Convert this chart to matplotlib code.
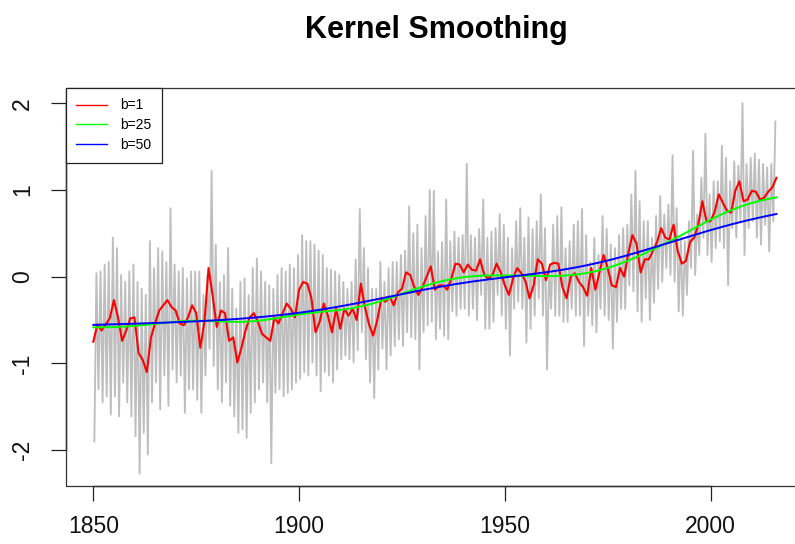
import numpy as np
import matplotlib
matplotlib.use("Agg")
import matplotlib.pyplot as plt
from matplotlib.patches import Rectangle
from matplotlib.lines import Line2D

plt.rcParams['font.family'] = ['Liberation Sans', 'DejaVu Sans']

# ---------------- data ----------------
start_year = 1850

# b=1 kernel smooth, one value per year 1850..2016
red_b1 = [
    -0.75, -0.55, -0.62, -0.55, -0.48, -0.27, -0.47, -0.74, -0.62, -0.48,   # 1850s
    -0.47, -0.88, -0.96, -1.10, -0.70, -0.54, -0.39, -0.33, -0.27, -0.35,   # 1860s
    -0.39, -0.54, -0.56, -0.47, -0.33, -0.42, -0.82, -0.52, 0.10, -0.22,    # 1870s
    -0.58, -0.39, -0.42, -0.74, -0.70, -0.99, -0.82, -0.62, -0.47, -0.42,   # 1880s
    -0.52, -0.66, -0.70, -0.74, -0.47, -0.54, -0.42, -0.31, -0.37, -0.47,   # 1890s
    -0.15, -0.06, -0.08, -0.25, -0.64, -0.52, -0.31, -0.45, -0.64, -0.37,   # 1900s
    -0.60, -0.37, -0.45, -0.37, -0.50, -0.08, -0.35, -0.55, -0.68, -0.50,   # 1910s
    -0.25, -0.29, -0.23, -0.33, -0.18, -0.14, 0.05, 0.02, -0.12, -0.21,     # 1920s
    -0.12, 0.00, 0.12, -0.15, -0.10, -0.10, -0.15, -0.02, 0.15, 0.14,       # 1930s
    0.05, 0.14, 0.08, 0.07, 0.20, 0.02, -0.02, 0.02, 0.15, 0.05,            # 1940s
    -0.10, -0.21, -0.02, 0.10, 0.04, -0.05, -0.25, -0.10, 0.20, 0.15,       # 1950s
    -0.04, 0.14, 0.16, 0.15, -0.12, -0.25, 0.00, 0.04, -0.06, -0.12,        # 1960s
    -0.22, 0.10, -0.15, 0.05, 0.25, 0.10, -0.10, -0.12, 0.10, 0.00,         # 1970s
    0.27, 0.48, 0.38, 0.05, 0.20, 0.20, 0.30, 0.40, 0.56, 0.45,             # 1980s
    0.43, 0.60, 0.30, 0.15, 0.18, 0.40, 0.45, 0.60, 0.87, 0.64,             # 1990s
    0.64, 0.75, 0.95, 0.85, 0.76, 0.74, 0.99, 1.10, 0.87, 0.89,             # 2000s
    0.99, 0.98, 0.89, 0.91, 0.98, 1.03, 1.14,                               # 2010s
]

# raw series: yearly low and high excursions, 1850..2015
gray_lo = [
    -1.90, -1.30, -1.45, -1.38, -1.59, -1.38, -1.61, -1.22, -1.45, -1.61,
    -1.84, -2.27, -1.80, -2.05, -1.45, -1.22, -1.53, -1.14, -1.49, -1.07,
    -1.22, -1.14, -1.57, -1.30, -1.30, -1.42, -1.57, -1.14, -0.83, -1.03,
    -1.30, -1.45, -1.22, -1.49, -1.61, -1.80, -1.76, -1.86, -1.57, -1.45,
    -1.30, -1.22, -1.45, -2.15, -1.34, -1.30, -1.38, -1.34, -1.30, -1.22,
    -1.18, -1.10, -1.14, -0.99, -1.14, -1.32, -1.10, -1.14, -1.22, -1.07,
    -0.95, -0.91, -0.95, -0.99, -0.85, -0.64, -0.95, -1.22, -1.40, -1.07,
    -0.83, -1.07, -0.91, -0.80, -0.72, -0.80, -0.64, -0.70, -0.72, -1.07,
    -0.64, -0.56, -0.52, -0.72, -0.60, -0.68, -0.72, -0.40, -0.45, -0.37,
    -0.37, -0.45, -0.37, -0.50, -0.21, -0.60, -0.60, -0.52, -0.21, -0.45,
    -0.60, -0.91, -0.37, -0.29, -0.37, -0.76, -0.60, -0.45, -0.25, -0.45,
    -1.07, -0.37, -0.45, -0.45, -0.52, -0.52, -0.37, -0.45, -0.45, -0.80,
    -0.45, -0.56, -0.64, -0.37, -0.45, -0.50, -0.83, -0.52, -0.37, -0.37,
    -0.10, -0.17, -0.40, -0.52, -0.25, -0.50, -0.30, -0.14, -0.06, 0.10,
    0.02, -0.06, -0.40, -0.45, -0.21, 0.10, 0.02, 0.25, 0.45, 0.25,
    0.17, 0.33, 0.41, 0.33, -0.10, 0.56, 0.45, 0.64, 0.25, 0.56,
    0.64, 0.45, 0.37, 0.60, 0.29, 0.64,
]
gray_hi = [
    0.04, 0.06, 0.14, 0.17, 0.45, 0.33, 0.02, -0.06, 0.06, 0.14,
    -0.06, -0.14, -0.21, 0.41, 0.10, 0.33, 0.29, 0.17, 0.79, 0.14,
    0.06, 0.10, -0.02, 0.06, 0.06, 0.06, -0.21, 0.02, 1.22, 0.37,
    -0.06, 0.02, 0.33, -0.14, -0.37, -0.06, -0.02, -0.21, 0.10, 0.21,
    0.06, -0.06, -0.10, -0.14, 0.02, 0.10, 0.06, 0.14, 0.10, 0.25,
    0.48, 0.41, 0.41, 0.37, 0.30, 0.25, 0.10, 0.08, 0.06, 0.02,
    -0.06, -0.14, -0.06, 0.20, 0.78, 0.33, 0.10, -0.14, -0.14, 0.17,
    -0.06, 0.10, 0.17, 0.17, 0.25, 0.30, 0.81, 0.50, 0.60, 0.33,
    0.70, 1.00, 0.99, 0.29, 0.40, 0.89, 0.41, 0.52, 0.45, 0.48,
    1.30, 0.48, 0.45, 0.55, 0.89, 0.45, 0.52, 0.56, 0.72, 0.60,
    0.45, 0.33, 0.64, 0.79, 0.45, 0.68, 0.55, 0.64, 0.95, 0.56,
    0.10, 0.60, 0.70, 0.80, 0.33, 0.41, 0.60, 0.64, 0.78, 0.48,
    0.17, 0.45, 0.25, 0.70, 0.55, 0.37, 0.33, 0.48, 0.56, 0.60,
    0.95, 1.22, 0.87, 0.64, 0.64, 0.45, 0.70, 0.93, 0.72, 0.83,
    1.40, 0.79, 0.45, 0.41, 0.64, 1.45, 0.72, 1.14, 1.65, 0.95,
    1.10, 1.10, 1.51, 1.37, 1.10, 1.33, 1.28, 2.00, 1.30, 1.37,
    1.42, 1.35, 1.30, 1.26, 1.30, 1.79,
]

bandwidths = [1, 25, 50]
legend_labels = ["b=1", "b=25", "b=50"]
x_ticks = [1850, 1900, 1950, 2000]
y_ticks = [-2, -1, 0, 1, 2]
title = "Kernel Smoothing"


def ksmooth(x, y, b):
    """Normal-kernel smoother as in R's ksmooth (quartiles at +-0.25*b)."""
    sd = 0.3706506 * b
    out = np.empty(len(y))
    for i, xi in enumerate(x):
        d = np.abs(x - xi)
        m = d < 4 * sd
        w = np.exp(-0.5 * (d[m] / sd) ** 2)
        out[i] = np.sum(w * y[m]) / np.sum(w)
    return out


red = np.array(red_b1)
t_red = start_year + np.arange(len(red))
lo = np.array(gray_lo)
hi = np.array(gray_hi)
yrs = start_year + np.arange(len(lo))
t_gray = np.column_stack([yrs + 0.25, yrs + 0.75]).ravel()
v_gray = np.column_stack([lo, hi]).ravel()

green = ksmooth(t_red.astype(float), red, bandwidths[1])
blue = ksmooth(t_red.astype(float), red, bandwidths[2])

# ---------------- figure ----------------
W, H = 795, 544
fig = plt.figure(figsize=(W / 100, H / 100), dpi=100)
ax = fig.add_axes([66 / W, 1 - 485.5 / H, 738 / W, 397.5 / H])

ax.plot(t_gray, v_gray, color='#BEBEBE', lw=1.35)
ax.plot(t_red, red, color='#FF0000', lw=1.5)
ax.plot(t_red, green, color='#00FF00', lw=1.4)
ax.plot(t_red, blue, color='#0000FF', lw=1.4)

ax.set_xlim(1843.36, 2022.7)
ax.set_ylim(-2.408, 2.176)

# R-style axes: box + axis lines spanning the ticks only
for s in ['top', 'right']:
    ax.spines[s].set_visible(False)
ax.spines['bottom'].set_bounds(x_ticks[0], x_ticks[-1])
ax.spines['left'].set_bounds(y_ticks[0], y_ticks[-1])
for s in ['bottom', 'left']:
    ax.spines[s].set_linewidth(1.0)
    ax.spines[s].set_color('#222222')
ax.add_patch(Rectangle((0, 0), 1, 1, transform=ax.transAxes, fill=False,
                       lw=0.9, edgecolor='#333333', clip_on=False, zorder=5))

ax.set_xticks(x_ticks)
ax.set_yticks(y_ticks)
ax.set_xticklabels([str(v) for v in x_ticks])
ax.set_yticklabels([str(v) for v in y_ticks])
ax.tick_params(direction='out', length=11, width=0.9, color='#222222',
               labelsize=16.5, labelcolor='#111111')
ax.tick_params(axis='x', pad=10)
ax.tick_params(axis='y', pad=12)
for lab in ax.get_yticklabels():
    lab.set_rotation(90)
    lab.set_va('center')

fig.text(436 / W, 1 - 38.3 / H, title, ha='center', va='baseline',
         fontsize=22, fontweight='bold')

handles = [Line2D([], [], color=c, lw=1.0) for c in ['#FF0000', '#00FF00', '#0000FF']]
leg = ax.legend(handles, legend_labels, loc='upper left', bbox_to_anchor=(0, 1),
                borderaxespad=0, frameon=True, fancybox=False, edgecolor='#222222',
                fontsize=10, handlelength=2.2, handletextpad=0.95,
                labelspacing=0.42, borderpad=0.75, framealpha=1)
leg.get_frame().set_linewidth(0.9)

fig.savefig('out.png', dpi=100)
